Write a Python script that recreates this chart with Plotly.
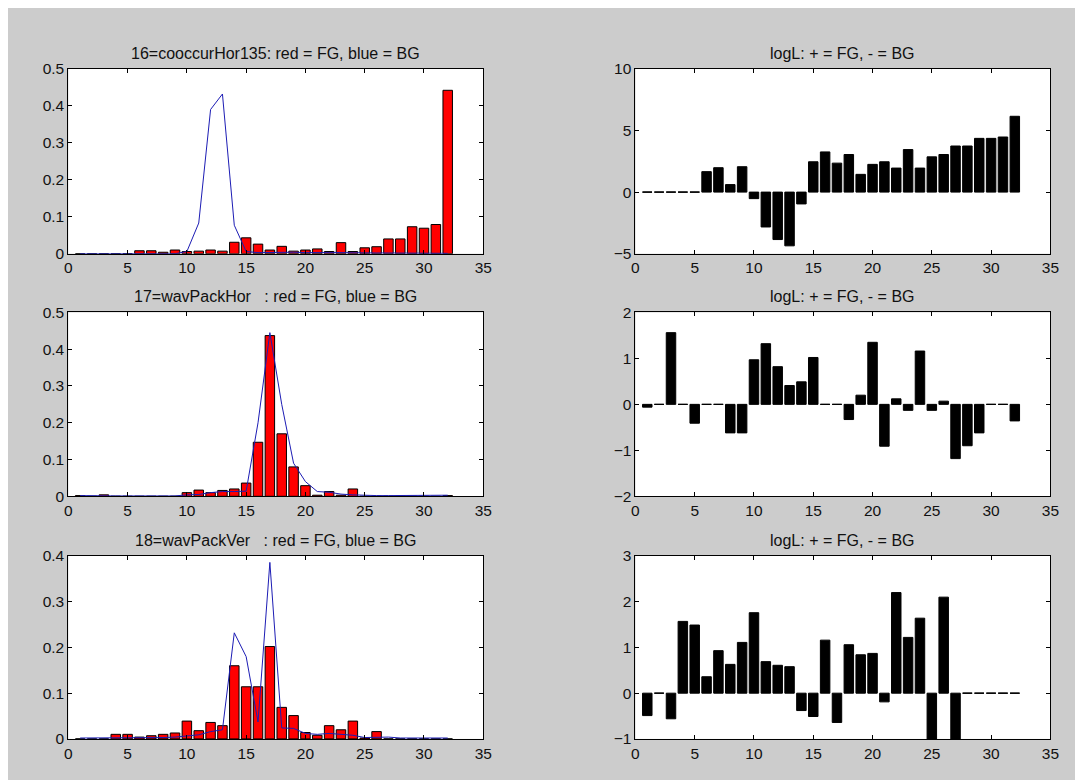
import plotly.graph_objects as go

bins = list(range(1, 33))

titles_left = ["16=cooccurHor135: red = FG, blue = BG",
               "17=wavPackHor\u00a0\u00a0\u00a0: red = FG, blue = BG",
               "18=wavPackVer\u00a0\u00a0\u00a0: red = FG, blue = BG"]
title_right = "logL: + = FG, - = BG"

fg16 = [0, 0, 0, 0, 0, 0.008, 0.008, 0.004, 0.010, 0.006, 0.007, 0.010, 0.007, 0.031, 0.043, 0.026,
        0.010, 0.020, 0.007, 0.010, 0.013, 0.006, 0.030, 0.006, 0.016, 0.019, 0.040, 0.040, 0.073, 0.069, 0.079, 0.442]
bg16 = [0, 0, 0, 0, 0, 0, 0, 0, 0, 0.006, 0.083, 0.390, 0.432, 0.077, 0.006, 0.003,
        0.004, 0.003, 0.004, 0.003, 0.004, 0.003, 0.003, 0.002, 0.002, 0.002, 0.002, 0.002, 0.002, 0.002, 0.002, 0.001]
logL16 = [0, 0, 0, 0, 0, 1.66, 1.98, 0.61, 2.06, -0.53, -2.83, -3.85, -4.36, -0.96, 2.46, 3.26,
          2.35, 3.05, 1.44, 2.25, 2.46, 1.95, 3.45, 1.95, 2.86, 3.05, 3.74, 3.74, 4.36, 4.36, 4.47, 6.15]

fg17 = [0.002, 0, 0.004, 0, 0, 0, 0, 0, 0, 0.010, 0.017, 0.010, 0.016, 0.020, 0.036, 0.147,
        0.437, 0.170, 0.080, 0.029, 0.003, 0.013, 0.003, 0.020, 0, 0, 0, 0, 0, 0, 0, 0.002]
bg17 = [0.002, 0.001, 0.002, 0.001, 0.001, 0.001, 0.001, 0.001, 0.001, 0.004, 0.005, 0.010, 0.013, 0.013, 0.014, 0.200,
        0.445, 0.250, 0.090, 0.040, 0.013, 0.011, 0.006, 0.004, 0.002, 0.002, 0.002, 0.002, 0.002, 0.002, 0.002, 0.003]
logL17 = [-0.06, 0, 1.56, 0, -0.41, 0, 0, -0.62, -0.62, 0.97, 1.32, 0.82, 0.41, 0.49, 1.02, 0,
          0, -0.33, 0.20, 1.35, -0.91, 0.12, -0.13, 1.16, -0.13, 0.07, -1.18, -0.90, -0.62, 0, 0, -0.36]

fg18 = [0, 0, 0, 0.010, 0.010, 0.004, 0.007, 0.010, 0.013, 0.039, 0.018, 0.036, 0.029, 0.160, 0.114, 0.114,
        0.202, 0.069, 0.051, 0.014, 0.008, 0.029, 0.020, 0.039, 0.002, 0.016, 0, 0, 0, 0, 0, 0]
bg18 = [0.002, 0.002, 0.002, 0.002, 0.002, 0.002, 0.002, 0.003, 0.004, 0.006, 0.009, 0.016, 0.020, 0.232, 0.180, 0.037,
        0.386, 0.024, 0.023, 0.012, 0.010, 0.012, 0.010, 0.008, 0.003, 0.004, 0.004, 0.002, 0.002, 0.002, 0.002, 0.002]
logL18 = [-0.49, 0, -0.56, 1.57, 1.49, 0.36, 0.93, 0.63, 1.11, 1.76, 0.69, 0.61, 0.58, -0.38, -0.51, 1.16,
          -0.64, 1.06, 0.84, 0.87, -0.19, 2.20, 1.22, 1.64, -1.5, 2.10, -1.5, 0, 0, 0, 0, 0]

fg_list = [fg16, fg17, fg18]
bg_list = [bg16, bg17, bg18]
logL_list = [logL16, logL17, logL18]

left_yranges = [[0, 0.5], [0, 0.5], [0, 0.4]]
right_yranges = [[-5, 10], [-2, 2], [-1, 3]]
right_dticks = [5, 1, 1]

W, H = 1083, 780
col_px = [(57, 477), (631, 1051)]
row_px = [(53, 242), (302, 490), (551, 738)]

BAR_W = 0.8
FONT = "Liberation Sans, Arial, sans-serif"
fig = go.Figure()
layout = dict(width=W, height=H, margin=dict(l=0, r=0, t=0, b=0),
              paper_bgcolor="#cccccc", plot_bgcolor="white", showlegend=False,
              font=dict(family=FONT, size=15, color="black"))
annotations = []

def axis_common():
    return dict(showline=True, linecolor="black", linewidth=1, mirror="ticks",
                ticks="inside", ticklen=4, tickcolor="black", showgrid=False,
                zeroline=False, tickfont=dict(family=FONT, size=15.5, color="#111111"))

for r in range(3):
    for c in range(2):
        idx = r * 2 + c + 1
        xa = "x" if idx == 1 else f"x{idx}"
        ya = "y" if idx == 1 else f"y{idx}"
        x0, x1 = col_px[c]
        y0, y1 = row_px[r]
        xd = [x0 / W, x1 / W]
        yd = [1 - y1 / H, 1 - y0 / H]
        xax = axis_common()
        xax.update(domain=xd, range=[0, 35], tickvals=[0, 5, 10, 15, 20, 25, 30, 35], anchor=ya)
        yax = axis_common()
        yax.update(domain=yd, anchor=xa)
        if c == 0:
            yax.update(range=left_yranges[r], dtick=0.1, tick0=0)
            fig.add_trace(go.Bar(x=bins, y=fg_list[r], width=BAR_W, xaxis=xa, yaxis=ya,
                                 marker=dict(color="#ff0000", line=dict(color="black", width=1))))
            fig.add_trace(go.Scatter(x=bins, y=bg_list[r], mode="lines", xaxis=xa, yaxis=ya,
                                     line=dict(color="#1c1cb4", width=1)))
            title = titles_left[r]
        else:
            yax.update(range=right_yranges[r], dtick=right_dticks[r], tick0=0)
            vals = logL_list[r]
            fig.add_trace(go.Bar(x=bins, y=vals, width=BAR_W, xaxis=xa, yaxis=ya,
                                 marker=dict(color="black", line=dict(color="black", width=1))))
            # zero-height bars drawn as short dashes (as MATLAB does)
            zx, zy = [], []
            for b, v in zip(bins, vals):
                if v == 0:
                    zx += [b - BAR_W / 2, b + BAR_W / 2, None]
                    zy += [0, 0, None]
            if zx:
                fig.add_trace(go.Scatter(x=zx, y=zy, mode="lines", xaxis=xa, yaxis=ya,
                                         line=dict(color="black", width=1)))
            title = title_right
        layout[f"xaxis{'' if idx == 1 else idx}"] = xax
        layout[f"yaxis{'' if idx == 1 else idx}"] = yax
        annotations.append(dict(text=title, x=(xd[0] + xd[1]) / 2, y=yd[1], xref="paper", yref="paper",
                                xanchor="center", yanchor="bottom", yshift=5, showarrow=False,
                                font=dict(family=FONT, size=16, color="#111111")))

layout["annotations"] = annotations
fig.update_layout(**layout)
fig.write_html("out.html")
